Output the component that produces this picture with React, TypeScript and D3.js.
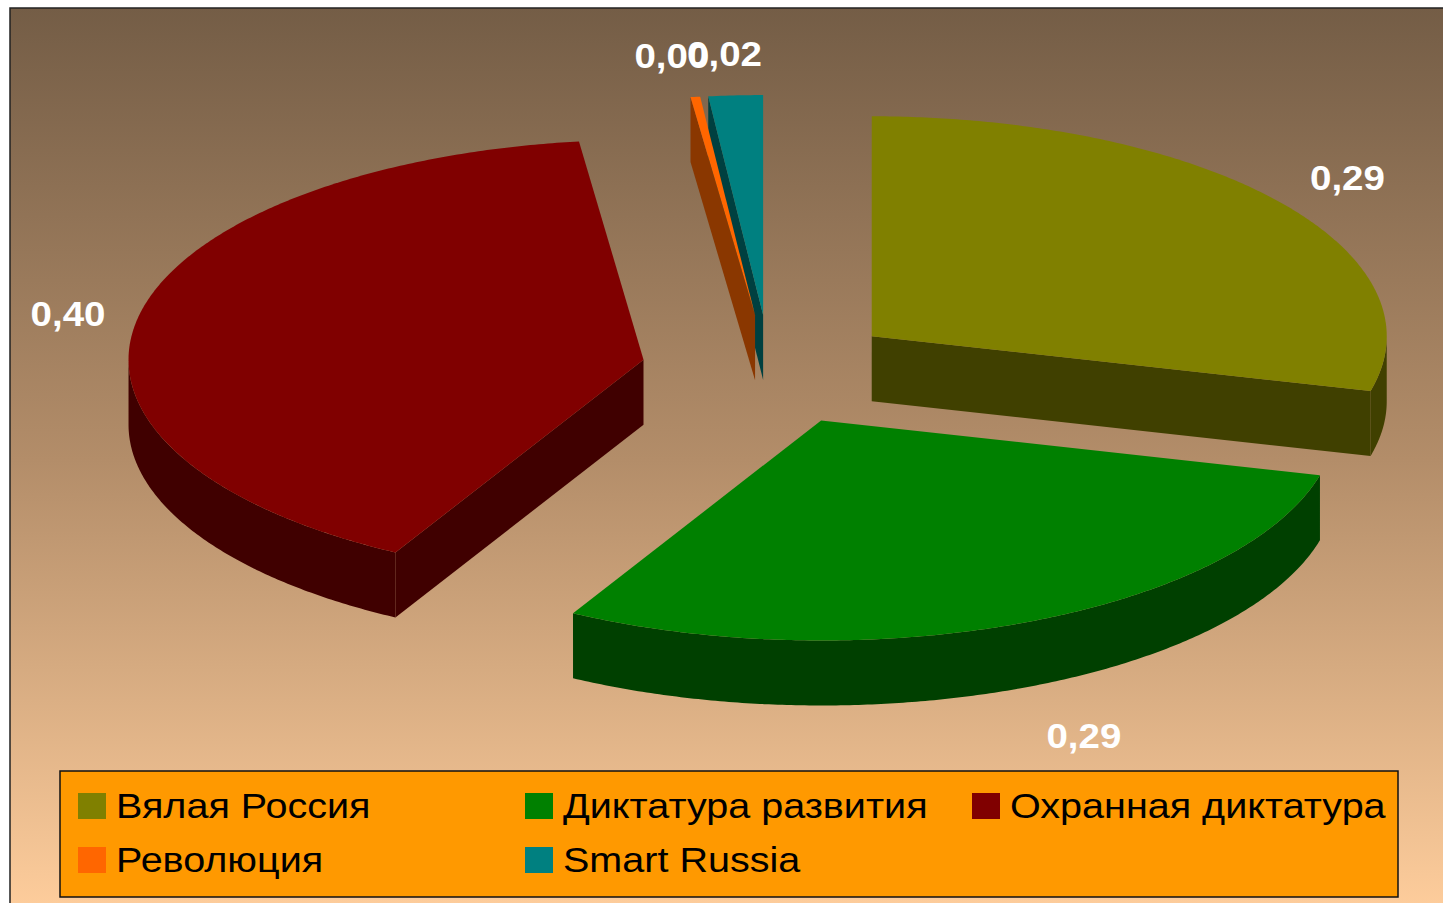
import React from 'react';
import * as d3 from 'd3';

const categories = ['Вялая Россия', 'Диктатура развития', 'Охранная диктатура', 'Революция', 'Smart Russia'];
const values = [0.29, 0.29, 0.4, 0.003, 0.017];
const topColors = ['#808000', '#008000', '#800000', '#ff6600', '#008080'];
const sideColors = ['#404000', '#004000', '#400000', '#8a3700', '#004040'];

const W = 1443;
const H = 903;

// 3d pie geometry (projected ellipse)
const cx = 770;
const cy = 370;
const rx = 515;
const ry = 220;
const depth = 65;
const explode = 0.25;

const fmt = (v: number) => d3.format('.2f')(v).replace('.', ',');

type P = [number, number];

export default function App() {
  const pie = d3.pie<number>().sort(null).startAngle(0).endAngle(2 * Math.PI);
  const arcs = pie(values);
  const line = d3.line<P>();

  const slices = arcs.map((a, i) => {
    const mid = (a.startAngle + a.endAngle) / 2;
    const tx = cx + explode * rx * Math.sin(mid);
    const ty = cy - explode * ry * Math.cos(mid);
    const pt = (t: number, dz = 0): P => [tx + rx * Math.sin(t), ty - ry * Math.cos(t) + dz];
    const sample = (t0: number, t1: number): number[] => {
      const n = Math.max(2, Math.ceil(((t1 - t0) * 180) / Math.PI / 0.5));
      return d3.range(n + 1).map((k) => t0 + ((t1 - t0) * k) / n);
    };

    const faces: { d: string; fill: string }[] = [];
    const tip: P = [tx, ty];
    const tipLow: P = [tx, ty + depth];

    // radial cut faces
    if (Math.cos(a.startAngle - Math.PI / 2) < -0.01) {
      faces.push({ d: line([tip, pt(a.startAngle), pt(a.startAngle, depth), tipLow])! + 'Z', fill: sideColors[i] });
    }
    if (Math.cos(a.endAngle + Math.PI / 2) < -0.01) {
      faces.push({ d: line([tip, pt(a.endAngle), pt(a.endAngle, depth), tipLow])! + 'Z', fill: sideColors[i] });
    }
    // outer wall, front half only
    const w0 = Math.max(a.startAngle, Math.PI / 2);
    const w1 = Math.min(a.endAngle, (3 * Math.PI) / 2);
    if (w1 > w0) {
      const ts = sample(w0, w1);
      const pts: P[] = [...ts.map((t) => pt(t)), ...ts.slice().reverse().map((t) => pt(t, depth))];
      faces.push({ d: line(pts)! + 'Z', fill: sideColors[i] });
    }
    // top face
    const topPts: P[] = [tip, ...sample(a.startAngle, a.endAngle).map((t) => pt(t))];
    faces.push({ d: line(topPts)! + 'Z', fill: topColors[i] });

    // label, outside the rim
    const front = Math.cos(mid) < 0 ? depth : 0;
    const [ox, oy] = pt(mid, front);
    const lx = ox + 70 * Math.tanh(3 * Math.sin(mid));
    const ly = oy - Math.cos(mid) * 46 + (front ? 6 : 4);

    return { i, ty, faces, lx, ly, label: fmt(a.data) };
  });

  const order = slices.slice().sort((a, b) => a.ty - b.ty);

  const legX0 = 78;
  const legColW = 447;
  const legY0 = 793;
  const legRowH = 54;

  return (
    <div style={{ position: 'absolute', left: 0, top: 0, width: W, height: H }}>
      <svg width={W} height={H} style={{ display: 'block' }} fontFamily="'Liberation Sans', Arial, sans-serif">
        <defs>
          <linearGradient id="bg" x1="0" y1="0" x2="0" y2="1">
            <stop offset="0%" stopColor="#745d46" />
            <stop offset="50%" stopColor="#b38d69" />
            <stop offset="100%" stopColor="#fecd9c" />
          </linearGradient>
        </defs>
        <rect x={0} y={0} width={W} height={H} fill="#ffffff" />
        <rect x={10} y={8} width={W} height={H} fill="url(#bg)" stroke="#222" strokeWidth={1.5} />

        {order.map((s) => (
          <g key={s.i}>
            {s.faces.map((f, k) => (
              <path key={k} d={f.d} fill={f.fill} />
            ))}
          </g>
        ))}

        {slices.map((s) => (
          <text
            key={'l' + s.i}
            transform={`translate(${s.lx},${s.ly}) scale(1.1,1)`}
            dy="0.36em"
            textAnchor="middle"
            fontSize={35}
            fontWeight="bold"
            fill="#ffffff"
          >
            {s.label}
          </text>
        ))}

        <rect x={60} y={771} width={1338} height={126} fill="#ff9900" stroke="#111" strokeWidth={1.5} />
        {categories.map((c, i) => {
          const col = i % 3;
          const row = Math.floor(i / 3);
          const x = legX0 + col * legColW;
          const y = legY0 + row * legRowH;
          return (
            <g key={'lg' + i}>
              <rect x={x} y={y} width={28} height={26} fill={topColors[i]} />
              <text transform={`translate(${x + 38},${y + 25}) scale(1.13,1)`} fontSize={35} fill="#000">
                {c}
              </text>
            </g>
          );
        })}
      </svg>
    </div>
  );
}
